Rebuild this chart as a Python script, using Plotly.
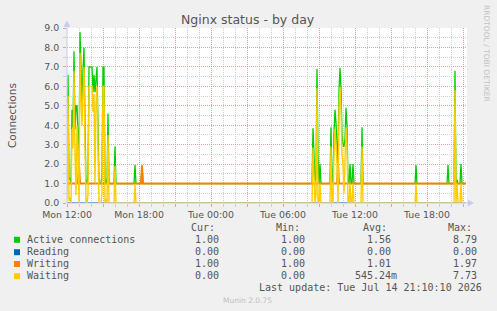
import plotly.graph_objects as go
import pandas as pd

# ---------------- data ----------------
start_time = "2026-07-13 12:00"
end_time = "2026-07-14 21:20"

# sample times, minutes after Mon 12:00
minutes = [
    0, 5, 10, 15, 20, 25, 30, 35, 40, 45, 50, 55, 60, 65, 70, 75, 80, 85, 90, 95,
    100, 105, 110, 115, 120, 125, 130, 135, 140, 145, 150, 155, 160, 165, 170, 175,
    180, 185, 190, 195, 200, 205, 210,
    235, 240, 245, 335, 340, 345, 370, 375, 380,
    1225, 1230, 1235, 1240, 1245, 1250, 1255, 1260, 1265, 1270,
    1315, 1320, 1325, 1330, 1335, 1340, 1345, 1350, 1355, 1360, 1365, 1370, 1375,
    1380, 1385, 1390, 1395, 1400, 1405, 1410, 1415, 1420, 1425, 1430, 1435,
    1470, 1475, 1480,
    1740, 1745, 1750, 1900, 1905, 1910, 1935, 1940, 1945, 1950, 1955, 1965, 1970, 1975, 1995,
]

active = [
    1.2, 6.6, 1.2, 1.3, 1.0, 4.8, 3.9, 7.8, 3.8, 5.0, 5.0, 3.8, 1.9, 8.79, 6.4, 5.1, 6.8, 8.0, 4.0, 1.0,
    1.0, 1.4, 7.0, 7.0, 7.0, 7.0, 5.7, 6.6, 5.7, 6.2, 7.0, 4.0, 1.0, 1.0, 1.0, 1.5,
    7.0, 7.0, 1.0, 1.2, 1.0, 4.6, 1.0,
    1.0, 2.9, 1.0, 1.0, 1.95, 1.0, 1.0, 1.93, 1.0,
    1.0, 3.85, 2.8, 1.1, 1.4, 6.9, 2.5, 1.0, 2.0, 1.0,
    1.0, 3.9, 1.0, 1.0, 3.6, 4.8, 4.1, 3.0, 1.96, 5.8, 6.95, 5.9, 3.5,
    3.0, 2.9, 3.3, 4.9, 4.0, 1.0, 1.0, 2.0, 1.0, 1.0, 2.0, 1.0,
    1.0, 3.9, 1.0,
    1.0, 1.95, 1.0, 1.0, 1.95, 1.0, 1.0, 6.8, 1.0, 1.2, 1.0, 1.0, 2.0, 1.0, 1.0,
]

reading = [
    0, 0, 0, 0, 0, 0, 0, 0, 0, 0, 0, 0, 0, 0, 0, 0, 0, 0, 0, 0,
    0, 0, 0, 0, 0, 0, 0, 0, 0, 0, 0, 0, 0, 0, 0, 0,
    0, 0, 0, 0, 0, 0, 0,
    0, 0, 0, 0, 0, 0, 0, 0, 0,
    0, 0, 0, 0, 0, 0, 0, 0, 0, 0,
    0, 0, 0, 0, 0, 0, 0, 0, 0, 0, 0, 0, 0,
    0, 0, 0, 0, 0, 0, 0, 0, 0, 0, 0, 0,
    0, 0, 0,
    0, 0, 0, 0, 0, 0, 0, 0, 0, 0, 0, 0, 0, 0, 0,
]

writing = [
    1, 1, 1, 1, 1, 1, 1, 1, 1, 1, 1, 1, 1.97, 1, 1, 1, 1, 1, 1, 1,
    1, 1, 1, 1, 1, 1, 1, 1, 1, 1, 1, 1, 1, 1, 1, 1,
    1, 1, 1, 1, 1, 1, 1,
    1, 1, 1, 1, 1, 1, 1, 1.93, 1,
    1, 1, 1, 1, 1, 1, 1, 1, 1, 1,
    1, 1, 1, 1, 1, 1, 1, 1, 1.96, 1, 1, 1, 1,
    1, 1, 1, 1, 1, 1, 1, 1, 1, 1, 1, 1,
    1, 1, 1,
    1, 1, 1, 1, 1, 1, 1, 1, 1, 1, 1, 1, 1, 1, 1,
]

waiting = [
    0.2, 5.5, 0.1, 0.3, 0.0, 3.8, 2.8, 6.8, 2.5, 0.4, 4.0, 2.6, 0.0, 7.73, 5.4, 4.0, 5.7, 7.0, 3.0, 0.0,
    0.0, 0.4, 6.0, 6.0, 6.0, 6.0, 4.7, 5.6, 1.0, 5.2, 6.0, 3.0, 0.0, 0.0, 0.0, 0.5,
    6.0, 6.0, 0.0, 0.2, 0.0, 3.5, 0.0,
    0.0, 1.9, 0.0, 0.0, 0.95, 0.0, 0.0, 0.0, 0.0,
    0.0, 2.85, 1.8, 0.0, 0.4, 5.9, 0.0, 0.0, 1.0, 0.0,
    0.0, 2.9, 0.0, 0.0, 2.6, 3.8, 3.0, 2.0, 0.0, 4.8, 5.95, 4.9, 2.5,
    2.0, 0.5, 2.3, 3.9, 3.0, 0.0, 0.0, 1.0, 0.0, 0.0, 1.0, 0.0,
    0.0, 2.9, 0.0,
    0.0, 0.95, 0.0, 0.0, 0.0, 0.0, 0.0, 5.8, 0.0, 1.0, 0.0, 0.0, 1.0, 0.0, 0.0,
]

series_names = ["Active connections", "Reading", "Writing", "Waiting"]
series_colors = ["#00CC00", "#0066B3", "#FF8000", "#FFCC00"]
series_widths = [1.3, 1.3, 2.0, 1.4]
series_values = [active, reading, writing, waiting]

legend_cur = ["1.00", "0.00", "1.00", "0.00"]
legend_min = ["1.00", "0.00", "1.00", "0.00"]
legend_avg = ["1.56", "0.00", "1.01", "545.24m"]
legend_max = ["8.79", "0.00", "1.97", "7.73"]
legend_headers = ["Cur:", "Min:", "Avg:", "Max:"]

x_tick_labels = ["Mon 12:00", "Mon 18:00", "Tue 00:00", "Tue 06:00", "Tue 12:00", "Tue 18:00"]
y_tick_values = [0, 1, 2, 3, 4, 5, 6, 7, 8, 9]
y_tick_labels = ["0.0", "1.0", "2.0", "3.0", "4.0", "5.0", "6.0", "7.0", "8.0", "9.0"]

title_text = "Nginx status - by day"
y_title = "Connections"
last_update = "Last update: Tue Jul 14 21:10:10 2026"
footer = "Munin 2.0.75"
side_text = "RRDTOOL / TOBI OETIKER"

# ---------------- styling / geometry ----------------
WIDTH, HEIGHT = 497, 311
L, T, PW, PH = 67, 28, 400, 175
B = T + PH
FONT = "DejaVu Sans"
MONO = "DejaVu Sans Mono"
TXT = "#555555"
MAJOR = "#E4A3A3"
MINOR = "#CFCFCF"
AXIS = "#C5CBF3"


def fx(x):
    return (x - L) / PW


def fy(y):
    return (B - y) / PH


times = pd.Timestamp(start_time) + pd.to_timedelta(minutes, unit="min")

fig = go.Figure()
for name, color, width, vals in zip(series_names, series_colors, series_widths, series_values):
    fig.add_trace(go.Scatter(x=times, y=vals, mode="lines", name=name,
                             line=dict(color=color, width=width), hoverinfo="skip"))

major_vals = pd.date_range(start_time, periods=12, freq="3h")
major_text = []
for i in range(len(major_vals)):
    major_text.append(x_tick_labels[i // 2] if i % 2 == 0 else "")

fig.update_layout(
    width=WIDTH, height=HEIGHT, autosize=False,
    margin=dict(l=L, r=WIDTH - L - PW, t=T, b=HEIGHT - B, pad=0),
    paper_bgcolor="#F0F0F0", plot_bgcolor="#FFFFFF",
    showlegend=False,
    font=dict(family=FONT, color=TXT, size=9.4),
    xaxis=dict(
        type="date", range=[start_time, end_time],
        tickmode="array", tickvals=list(major_vals), ticktext=major_text,
        showgrid=True, gridcolor=MAJOR, griddash="1px,1px", gridwidth=1,
        ticks="outside", ticklen=3, tickcolor=MAJOR, tickwidth=1,
        minor=dict(dtick=3600000, tick0=start_time, showgrid=True, gridcolor=MINOR,
                   griddash="1px,1px", gridwidth=1, ticks="outside", ticklen=3,
                   tickcolor=MINOR),
        tickfont=dict(family=FONT, size=9.4, color=TXT),
        zeroline=False, showline=False, fixedrange=True,
    ),
    yaxis=dict(
        range=[0, 9], tickmode="array", tickvals=y_tick_values, ticktext=y_tick_labels,
        showgrid=True, gridcolor=MAJOR, griddash="1px,1px", gridwidth=1,
        ticks="outside", ticklen=3, tickcolor=MAJOR, tickwidth=1,
        minor=dict(dtick=0.5, tick0=0, showgrid=True, gridcolor=MINOR, griddash="1px,1px",
                   gridwidth=1, ticks="outside", ticklen=3, tickcolor=MINOR),
        tickfont=dict(family=FONT, size=9.4, color=TXT),
        ticklabelstandoff=2,
        zeroline=False, showline=False, fixedrange=True,
    ),
)

shapes = []
# axes with arrows
shapes.append(dict(type="line", xref="paper", yref="paper", x0=fx(67), x1=fx(67),
                   y0=fy(B), y1=fy(24), line=dict(color=AXIS, width=1)))
shapes.append(dict(type="path", xref="paper", yref="paper",
                   path=f"M {fx(64)},{fy(26.5)} L {fx(67)},{fy(21)} L {fx(70)},{fy(26.5)} Z",
                   fillcolor=AXIS, line=dict(color=AXIS, width=0.5)))
shapes.append(dict(type="line", xref="paper", yref="paper", x0=fx(67), x1=fx(469),
                   y0=fy(B), y1=fy(B), line=dict(color=AXIS, width=1)))
shapes.append(dict(type="path", xref="paper", yref="paper",
                   path=f"M {fx(468)},{fy(200)} L {fx(473.5)},{fy(203)} L {fx(468)},{fy(206)} Z",
                   fillcolor=AXIS, line=dict(color=AXIS, width=0.5)))

annotations = []


def ann(text, x, y, xanchor="left", size=10, color=TXT, family=MONO, angle=0):
    annotations.append(dict(text=text, x=fx(x), y=fy(y), xref="paper", yref="paper",
                            xanchor=xanchor, yanchor="middle", showarrow=False,
                            textangle=angle, borderpad=0,
                            font=dict(family=family, size=size, color=color)))


ann(title_text, 248, 19, "center", 12.5, TXT, FONT)
ann(y_title, 12, 115, "center", 10.5, TXT, FONT, -90)
ann(side_text, 487, 53, "center", 7.5, "#C2C2C2", FONT, 90)

header_x = [190, 275, 362, 447]
for h, hx in zip(legend_headers, header_x):
    ann(h, hx, 227.3)

row_y = [239.3, 251.7, 263.5, 275.7]
for i, name in enumerate(series_names):
    y = row_y[i]
    shapes.append(dict(type="rect", xref="paper", yref="paper",
                       x0=fx(14), x1=fx(20), y0=fy(y - 2.5), y1=fy(y + 3.5),
                       fillcolor=series_colors[i], line=dict(width=0)))
    ann(name, 25.7, y)
    ann(legend_cur[i], 220, y, "right")
    ann(legend_min[i], 306, y, "right")
    avg = legend_avg[i]
    ann(avg, 398 if avg.endswith("m") else 392, y, "right")
    ann(legend_max[i], 477.5, y, "right")

ann(last_update, 483, 287.7, "right")
ann(footer, 247.7, 300, "center", 7.5, "#C0C0C0", FONT)

fig.update_layout(shapes=shapes, annotations=annotations)
fig.write_html("out.html", config={"displayModeBar": False, "staticPlot": True})
